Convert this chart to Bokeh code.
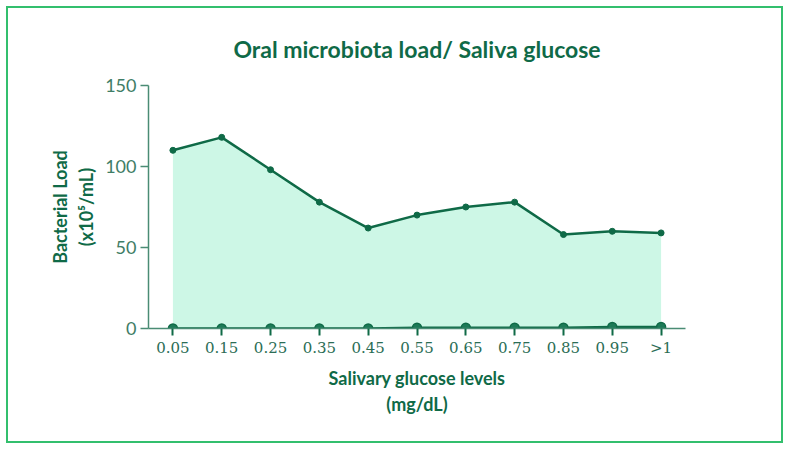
from bokeh.plotting import figure
from bokeh.models import ColumnDataSource, FixedTicker
from bokeh.embed import file_html
from bokeh.resources import INLINE

categories = ["0.05", "0.15", "0.25", "0.35", "0.45", "0.55", "0.65", "0.75", "0.85", "0.95", ">1"]
bacterial_load = [110, 118, 98, 78, 62, 70, 75, 78, 58, 60, 59]
baseline_load = [0, 0, 0, 0, 0, 0.5, 0.5, 0.5, 0.5, 1, 1]
y_ticks = [0, 50, 100, 150]

idx = list(range(len(categories)))
src = ColumnDataSource(dict(x=idx, load=bacterial_load, base=baseline_load,
                            zero=[0] * len(idx)))

DARK = "#0f6a47"
AXIS = "#4a8c74"
FILL = "#cdf7e6"

p = figure(width=777, height=437, output_backend="svg", toolbar_location=None,
           x_range=(-0.5, len(categories) - 0.5), y_range=(0, 150),
           min_border_left=140, min_border_right=100, min_border_top=77,
           min_border_bottom=117)
p.styles = {"border": "2px solid #33bf6d", "margin": "6px 0 0 6px"}
p.outline_line_color = None
p.grid.visible = False
p.background_fill_color = "white"

p.title.text = "Oral microbiota load/ Saliva glucose"
p.title.align = "center"
p.title.text_font = "Lato"
p.title.text_font_size = "23px"
p.title.text_font_style = "bold"
p.title.text_color = DARK
p.title.standoff = 45

p.varea(x="x", y1="zero", y2="load", source=src, fill_color=FILL)
p.line(x="x", y="load", source=src, line_color=DARK, line_width=2.5)
p.scatter(x="x", y="load", source=src, size=6, fill_color=DARK, line_color=DARK)
p.line(x="x", y="base", source=src, line_color=DARK, line_width=2.5)
p.scatter(x="x", y="base", source=src, size=9, fill_color="#1d7a57",
          line_color=DARK, line_width=1.5)

# x axis
xa = p.xaxis[0]
xa.ticker = FixedTicker(ticks=idx)
xa.major_label_overrides = {i: c for i, c in zip(idx, categories)}
xa.major_label_text_font = "DejaVu Serif"
xa.major_label_text_font_size = "15px"
xa.major_label_text_color = "#2b6d55"
xa.major_tick_in = 0
xa.major_tick_out = 7
xa.major_tick_line_color = DARK
xa.major_tick_line_width = 2
xa.minor_tick_line_color = None
xa.axis_line_color = AXIS
xa.axis_line_width = 1.5
xa.major_label_standoff = 3
xa.axis_label = "Salivary glucose levels\n(mg/dL)"
xa.axis_label_text_font = "Lato"
xa.axis_label_text_font_size = "18px"
xa.axis_label_text_font_style = "bold"
xa.axis_label_text_color = DARK
xa.axis_label_standoff = 7

# y axis
ya = p.yaxis[0]
ya.ticker = FixedTicker(ticks=y_ticks)
ya.major_label_text_font = "Lato"
ya.major_label_text_font_size = "18px"
ya.major_label_text_color = "#3f7d66"
ya.major_tick_in = 0
ya.major_tick_out = 8
ya.major_tick_line_color = AXIS
ya.major_tick_line_width = 1.5
ya.minor_tick_line_color = None
ya.axis_line_color = AXIS
ya.axis_line_width = 1.5
ya.major_label_standoff = 4
ya.axis_label = "Bacterial Load\n(x10\u2075/mL)"
ya.axis_label_text_font = "Lato"
ya.axis_label_text_font_size = "18px"
ya.axis_label_text_font_style = "bold"
ya.axis_label_text_color = DARK
ya.axis_label_standoff = 5

open("out.html", "w").write(file_html(p, INLINE))
